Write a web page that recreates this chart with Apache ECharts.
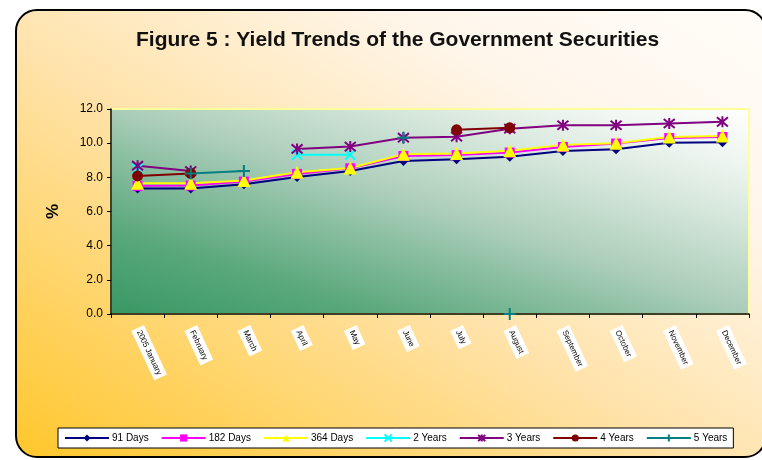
<!DOCTYPE html>
<html>
<head>
<meta charset="utf-8">
<script src="https://cdn.jsdelivr.net/npm/echarts@6/dist/echarts.min.js"></script>
<style>
  html, body { margin: 0; padding: 0; background: #ffffff; }
  #wrap { position: relative; width: 762px; height: 460px; overflow: hidden; }
  #frame {
    position: absolute; left: 15px; top: 9px; width: 748px; height: 445px;
    border: 2px solid #000; border-radius: 22px;
    background: linear-gradient(to top right, #ffc72c 0%, #ffe2a8 45%, #fff6ea 75%, #fffdf9 100%);
  }
  #chart { position: absolute; left: 0; top: 0; width: 762px; height: 460px; }
</style>
</head>
<body>
<div id="wrap">
  <div id="frame"></div>
  <div id="chart"></div>
</div>
<script>
// Month labels along the bottom axis
const categories = ['2005 January', 'February', 'March', 'April', 'May', 'June',
                    'July', 'August', 'September', 'October', 'November', 'December'];

// Yields (%) by maturity; null where no issue took place that month
const days91  = [7.35, 7.35, 7.60, 8.02, 8.37, 8.96, 9.06, 9.21, 9.54, 9.64, 10.03, 10.05];
const days182 = [7.50, 7.52, 7.75, 8.20, 8.53, 9.25, 9.30, 9.45, 9.78, 9.98, 10.30, 10.36];
const days364 = [7.65, 7.66, 7.82, 8.30, 8.55, 9.35, 9.40, 9.55, 9.90, 10.00, 10.36, 10.42];
const years2  = [8.50, null, null, 9.32, 9.32, null, null, null, null, null, null, null];
const years3  = [8.68, 8.37, null, 9.66, 9.80, 10.32, 10.38, 10.85, 11.05, 11.05, 11.15, 11.25];
const years4  = [8.08, 8.23, null, null, null, null, 10.78, 10.90, null, null, null, null];
const years5  = [null, 8.23, 8.37, null, null, 10.32, null, 0.0, null, null, null, null];

const yTicks = { min: 0, max: 12, interval: 2 };

const CROSS = 'path://M0,0L10,10M10,0L0,10';
const STAR  = 'path://M0,0L10,10M10,0L0,10M5,-1L5,11';
const PLUS  = 'path://M5,0L5,10M0,5L10,5';

function line(name, data, color, symbol, size, stroked) {
  return {
    name: name,
    type: 'line',
    data: data,
    connectNulls: false,
    symbol: symbol,
    symbolSize: size,
    showAllSymbol: true,
    lineStyle: { color: color, width: 2 },
    itemStyle: stroked
      ? { color: 'rgba(0,0,0,0)', borderColor: color, borderWidth: 2 }
      : { color: color, borderWidth: 0 },
    emphasis: { disabled: true },
    animation: false
  };
}

const chart = echarts.init(document.getElementById('chart'), null, { renderer: 'canvas' });

chart.setOption({
  backgroundColor: 'transparent',
  textStyle: { fontFamily: 'Liberation Sans, Arial, sans-serif' },
  title: {
    text: 'Figure 5 : Yield Trends of the Government Securities',
    left: 131, top: 25,
    textStyle: { fontSize: 21, fontWeight: 'bold', color: '#111', fontFamily: 'Liberation Sans, Arial, sans-serif' }
  },
  legend: {
    left: 58, top: 428,
    backgroundColor: '#ffffff',
    borderColor: '#000', borderWidth: 1, borderRadius: 0,
    padding: [5, 6],
    itemWidth: 44, itemHeight: 9, itemGap: 12,
    textStyle: { fontSize: 10, color: '#000', padding: [0, 0, 0, -2] },
    data: ['91 Days', '182 Days', '364 Days', '2 Years', '3 Years', '4 Years', '5 Years']
  },
  grid: {
    left: 111, right: 13, top: 109, bottom: 146,
    show: true,
    borderColor: '#ffff99', borderWidth: 2,
    // isolines run from the top-left corner to the bottom-right corner
    backgroundColor: {
      type: 'linear', x: 0, y: 1, x2: 0.187, y2: -0.813,
      colorStops: [
        { offset: 0, color: '#389864' },
        { offset: 0.2, color: '#58a77a' },
        { offset: 0.4, color: '#8dc0a3' },
        { offset: 0.5, color: '#aacdb9' },
        { offset: 0.7, color: '#d3e5d9' },
        { offset: 0.85, color: '#eef5f0' },
        { offset: 1, color: '#ffffff' }
      ]
    }
  },
  xAxis: {
    type: 'category',
    data: categories,
    boundaryGap: true,
    axisLine: { lineStyle: { color: '#000', width: 1.5 } },
    axisTick: { show: true, interval: 0, length: 4, lineStyle: { color: '#000' } },
    axisLabel: {
      interval: 0, rotate: -65, margin: 14,
      fontSize: 8, color: '#000',
      backgroundColor: '#ffffff', padding: [3, 3]
    },
    splitLine: { show: false }
  },
  yAxis: {
    type: 'value',
    min: yTicks.min, max: yTicks.max, interval: yTicks.interval,
    name: '%', nameLocation: 'middle', nameGap: 49, nameRotate: 90,
    nameTextStyle: { fontSize: 17, fontWeight: 'bold', color: '#000' },
    axisLine: { show: true, lineStyle: { color: '#000', width: 1.5 } },
    axisTick: { show: true, length: 4, lineStyle: { color: '#000' } },
    axisLabel: { fontSize: 12, color: '#000', margin: 8, formatter: v => v.toFixed(1) },
    splitLine: { show: false }
  },
  series: [
    line('91 Days', days91, '#000080', 'diamond', 10, false),
    line('182 Days', days182, '#ff00ff', 'rect', 10, false),
    line('364 Days', days364, '#ffff00', 'triangle', 13, false),
    line('2 Years', years2, '#00ffff', CROSS, 10, true),
    line('3 Years', years3, '#800080', STAR, 11, true),
    line('4 Years', years4, '#800000', 'circle', 11, false),
    line('5 Years', years5, '#008080', PLUS, 12, true)
  ]
});
</script>
</body>
</html>
